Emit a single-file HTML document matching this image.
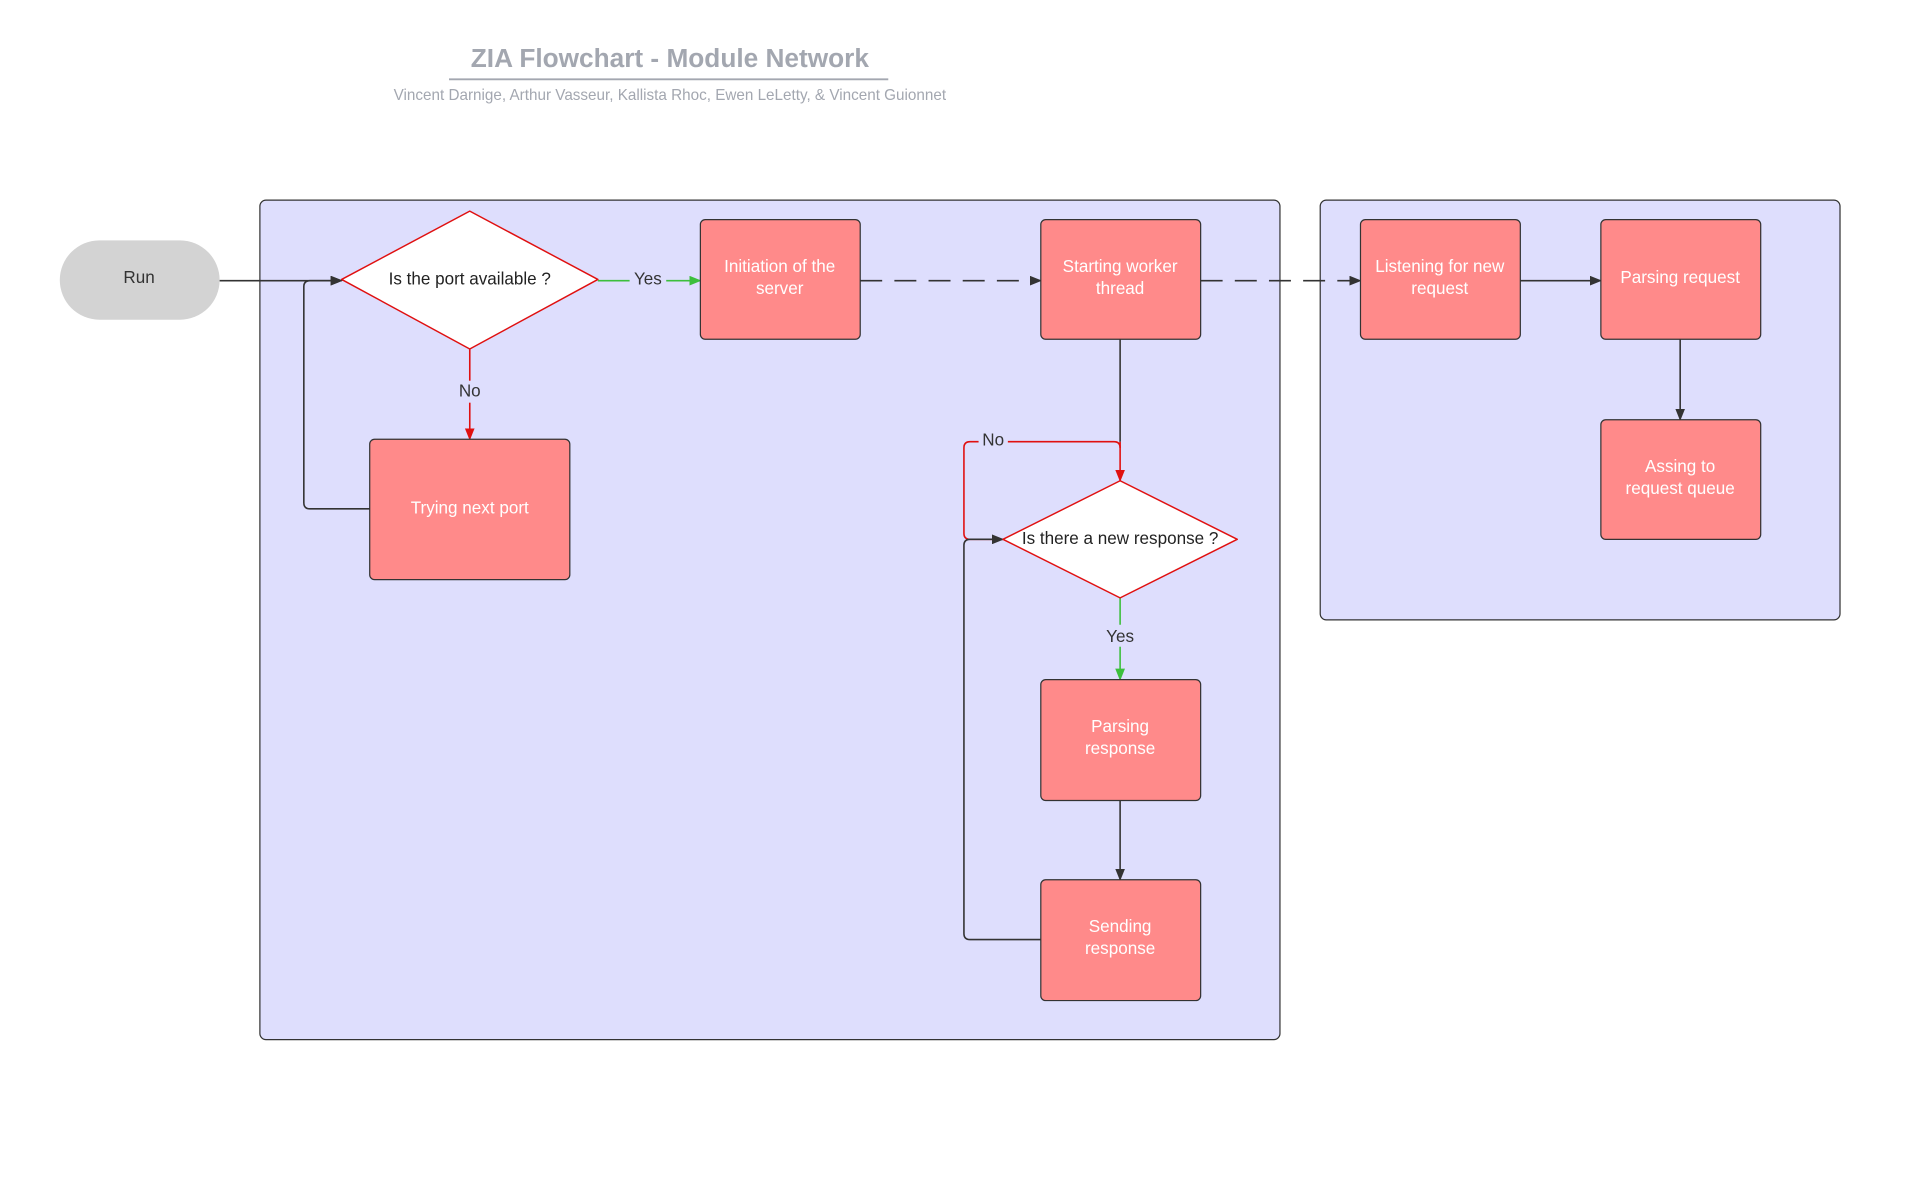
<!DOCTYPE html>
<html><head><meta charset="utf-8"><style>
html,body{margin:0;padding:0;background:#fff;width:1912px;height:1188px;overflow:hidden}
svg{display:block}
text{font-family:"Liberation Sans",Arial,sans-serif}
</style></head><body>
<svg width="1912" height="1188" viewBox="0 0 1567 973.6" preserveAspectRatio="none" xmlns="http://www.w3.org/2000/svg">
<defs>
<marker id="ak" markerWidth="10" markerHeight="8" refX="9" refY="4" orient="auto" markerUnits="userSpaceOnUse"><path d="M0,0 L10,4 L0,8 z" fill="#333"/></marker>
<marker id="ar" markerWidth="10" markerHeight="8" refX="9" refY="4" orient="auto" markerUnits="userSpaceOnUse"><path d="M0,0 L10,4 L0,8 z" fill="#e01010"/></marker>
<marker id="ag" markerWidth="10" markerHeight="8" refX="9" refY="4" orient="auto" markerUnits="userSpaceOnUse"><path d="M0,0 L10,4 L0,8 z" fill="#3cbf3c"/></marker>
</defs>
<text x="549" y="55" text-anchor="middle" font-size="21.5" font-weight="bold" fill="#a3a7b0">ZIA Flowchart - Module Network</text>
<line x1="368" y1="65" x2="728" y2="65" stroke="#a3a7b0" stroke-width="1.5"/>
<text x="549" y="82" text-anchor="middle" font-size="12.5" fill="#a3a7b0">Vincent Darnige, Arthur Vasseur, Kallista Rhoc, Ewen LeLetty, &amp; Vincent Guionnet</text>

<rect x="213" y="164" width="836" height="688" rx="5" fill="#dedefd" stroke="#333" stroke-width="1"/>
<rect x="1082" y="164" width="426" height="344" rx="5" fill="#dedefd" stroke="#333" stroke-width="1"/>

<rect x="49" y="197" width="131" height="65" rx="32.5" fill="#d3d3d3"/>
<text x="114" y="232" text-anchor="middle" font-size="14" fill="#333">Run</text>

<g fill="none" stroke-width="1.3">
<path d="M180,230 H280" stroke="#333" marker-end="url(#ak)"/>
<path d="M303,417 H254 Q249,417 249,412 V235 Q249,230 254,230 H280" stroke="#333" marker-end="url(#ak)"/>
<path d="M490,230 H574" stroke="#3cbf3c" marker-end="url(#ag)"/>
<path d="M385,286 V360" stroke="#e01010" marker-end="url(#ar)"/>
<path d="M705,230 H853" stroke="#333" stroke-dasharray="18,10" marker-end="url(#ak)"/>
<path d="M984,230 H1115" stroke="#333" stroke-dasharray="18,10" marker-end="url(#ak)"/>
<path d="M1246,230 H1312" stroke="#333" marker-end="url(#ak)"/>
<path d="M1377,278 V344" stroke="#333" marker-end="url(#ak)"/>
<path d="M918,278 V362" stroke="#333"/>
<path d="M918,362 V394" stroke="#e01010" marker-end="url(#ar)"/>
<path d="M822,442 H795 Q790,442 790,437 V367 Q790,362 795,362 H913 Q918,362 918,367" stroke="#e01010"/>
<path d="M918,490 V557" stroke="#3cbf3c" marker-end="url(#ag)"/>
<path d="M918,656 V721" stroke="#333" marker-end="url(#ak)"/>
<path d="M853,770 H795 Q790,770 790,765 V447 Q790,442 795,442 H822" stroke="#333" marker-end="url(#ak)"/>
</g>
<rect x="516" y="220" width="30" height="18" fill="#dedefd"/>
<text x="531" y="233" text-anchor="middle" font-size="14" fill="#333">Yes</text>
<rect x="372" y="312" width="26" height="18" fill="#dedefd"/>
<text x="385" y="325" text-anchor="middle" font-size="14" fill="#333">No</text>
<rect x="802" y="352" width="24" height="16" fill="#dedefd"/>
<text x="814" y="365" text-anchor="middle" font-size="14" fill="#333">No</text>
<rect x="903" y="512" width="30" height="18" fill="#dedefd"/>
<text x="918" y="526" text-anchor="middle" font-size="14" fill="#333">Yes</text>

<path d="M385,173 L490,229 L385,286 L280,229 Z" fill="#fff" stroke="#e01010" stroke-width="1.2" stroke-linejoin="round"/>
<text x="385" y="233" text-anchor="middle" font-size="14" fill="#222">Is the port available ?</text>
<path d="M918,394 L1014,442 L918,490 L822,442 Z" fill="#fff" stroke="#e01010" stroke-width="1.2" stroke-linejoin="round"/>
<text x="918" y="446" text-anchor="middle" font-size="14" fill="#222">Is there a new response ?</text>

<g fill="#ff8a8a" stroke="#333" stroke-width="1">
<rect x="574" y="180" width="131" height="98" rx="4"/>
<rect x="853" y="180" width="131" height="98" rx="4"/>
<rect x="1115" y="180" width="131" height="98" rx="4"/>
<rect x="1312" y="180" width="131" height="98" rx="4"/>
<rect x="1312" y="344" width="131" height="98" rx="4"/>
<rect x="303" y="360" width="164" height="115" rx="4"/>
<rect x="853" y="557" width="131" height="99" rx="4"/>
<rect x="853" y="721" width="131" height="99" rx="4"/>
</g>
<g fill="#fff" font-size="14" text-anchor="middle">
<text x="639" y="223">Initiation of the</text><text x="639" y="241">server</text>
<text x="918" y="223">Starting worker</text><text x="918" y="241">thread</text>
<text x="1180" y="223">Listening for new</text><text x="1180" y="241">request</text>
<text x="1377" y="232">Parsing request</text>
<text x="1377" y="387">Assing to</text><text x="1377" y="405">request queue</text>
<text x="385" y="421">Trying next port</text>
<text x="918" y="600">Parsing</text><text x="918" y="618">response</text>
<text x="918" y="764">Sending</text><text x="918" y="782">response</text>
</g>
</svg>
</body></html>
